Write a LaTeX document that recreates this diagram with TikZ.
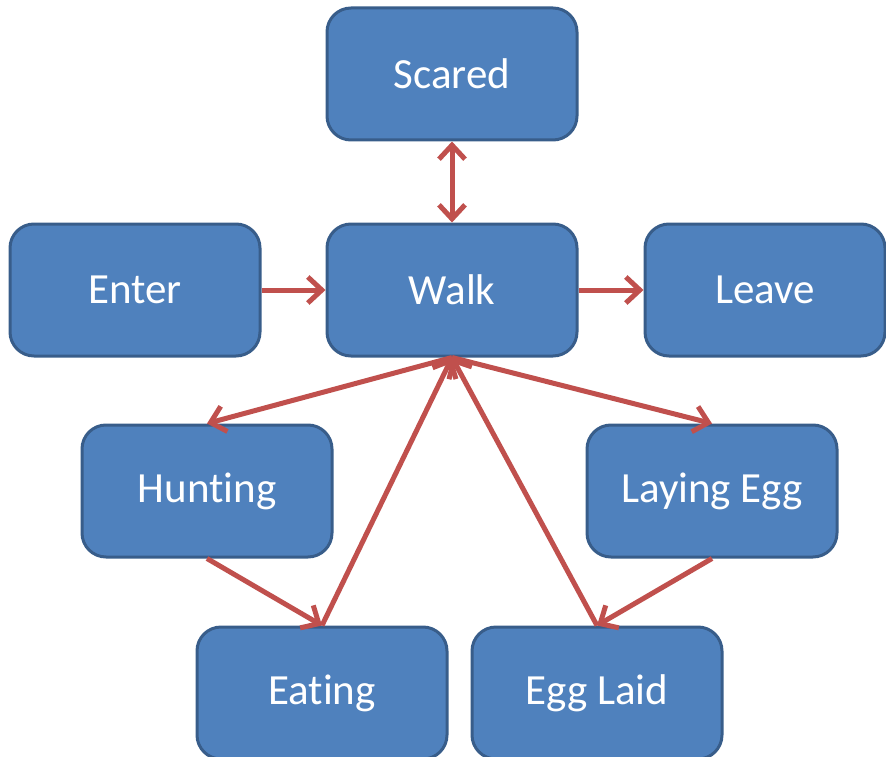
\documentclass[tikz,border=0pt]{standalone}
\usepackage{fontspec}
\setmainfont{Carlito}[Ligatures=NoCommon]
\usetikzlibrary{arrows.meta}
\definecolor{boxfill}{HTML}{4F81BD}
\definecolor{boxline}{HTML}{385D8A}
\definecolor{flow}{HTML}{C0504D}
\begin{document}
\begin{tikzpicture}[x=1pt,y=-1pt,
  state/.style={draw=boxline, line width=3pt, fill=boxfill, rounded corners=24pt,
    minimum width=250pt, minimum height=132pt, inner sep=0pt,
    text=white, font=\fontsize{43}{50}\selectfont},
  tip/.style={Straight Barb[length=14pt,width=26pt,line width=5pt]},
  link/.style={draw=flow, line width=5pt, -{Straight Barb[length=14pt,width=26pt,line width=5pt]}},
  both/.style={draw=flow, line width=5pt,
    {Straight Barb[length=14pt,width=26pt,line width=5pt]}-{Straight Barb[length=14pt,width=26pt,line width=5pt]}}]
\useasboundingbox (0,0) rectangle (886,757);

\node[state] (scared) at (452,74)  {Scared};
\node[state] (enter)  at (135,290) {Enter};
\node[state] (walk)   at (452,290) {Walk};
\node[state, minimum width=240pt] (leave) at (765,290) {Leave};
\node[state] (hunt)   at (207,491) {Hunting};
\node[state] (lay)    at (712,491) {Laying Egg};
\node[state] (eat)    at (322,693) {Eating};
\node[state] (laid)   at (597,693) {Egg Laid};

\draw[both] (scared.south) -- (walk.north);
\draw[link] (enter.east) -- (walk.west);
\draw[link] (walk.east) -- (leave.west);
\draw[link] (walk.south) -- (hunt.north);
\draw[link] (walk.south) -- (lay.north);
\draw[link] (eat.north) -- (walk.south);
\draw[link] (laid.north) -- (walk.south);
\draw[link] (hunt.south) -- (eat.north);
\draw[link] (lay.south) -- (laid.north);
\end{tikzpicture}
\end{document}
